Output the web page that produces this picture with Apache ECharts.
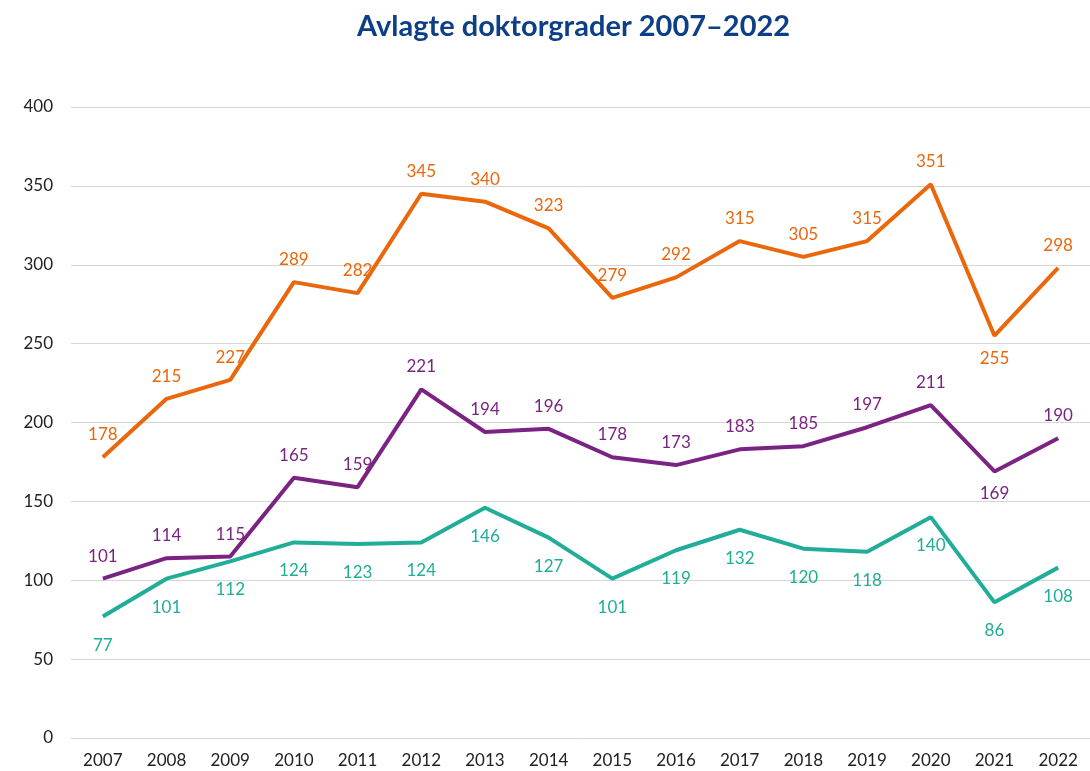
<!DOCTYPE html>
<html>
<head>
<meta charset="utf-8">
<script src="https://cdn.jsdelivr.net/npm/echarts@6/dist/echarts.min.js"></script>
<style>
    html, body { margin: 0; padding: 0; background: #fff; }
    #chart { width: 1090px; height: 771px; }
</style>
</head>
<body>
<div id="chart"></div>
<script>
    // år og tall
    const years = ['2007', '2008', '2009', '2010', '2011', '2012', '2013', '2014',
        '2015', '2016', '2017', '2018', '2019', '2020', '2021', '2022'];
    const totalt = [178, 215, 227, 289, 282, 345, 340, 323, 279, 292, 315, 305, 315, 351, 255, 298];
    const lilla = [101, 114, 115, 165, 159, 221, 194, 196, 178, 173, 183, 185, 197, 211, 169, 190];
    const gronn = [77, 101, 112, 124, 123, 124, 146, 127, 101, 119, 132, 120, 118, 140, 86, 108];
    // punkter der etiketten står under linja
    const underTotalt = ['2021'];
    const underLilla = ['2021'];

    const font = 'Lato, "Open Sans", sans-serif';

    function lag (values, below, pos) {
        return values.map((v, i) => {
            if (below.indexOf(years[i]) >= 0) {
                return {value: v, label: {position: pos}};
            }
            return v;
        });
    }

    function serie (name, values, color, position, dist) {
        return {
            name: name,
            type: 'line',
            data: values,
            symbol: 'circle',
            symbolSize: 0.1,
            showSymbol: true,
            lineStyle: {width: 4, color: color},
            itemStyle: {color: color},
            label: {
                show: true,
                position: position,
                distance: dist,
                color: color,
                fontSize: 17,
                fontFamily: font
            },
            emphasis: {disabled: true},
            z: 3
        };
    }

    let myChart = echarts.init(document.getElementById('chart'));
    let option = {
        animation: false,
        title: {
            text: 'Avlagte doktorgrader 2007–2022',
            left: 352,
            top: 7,
            textStyle: {
                color: '#0d3f88',
                fontSize: 29,
                fontWeight: 'bold',
                fontFamily: font
            }
        },
        grid: {
            left: 71,
            right: -8,
            top: 107,
            bottom: 33
        },
        xAxis: {
            type: 'category',
            data: years,
            axisLine: {show: false},
            axisTick: {show: false},
            axisLabel: {
                color: '#222',
                fontSize: 17,
                fontFamily: font,
                margin: 14
            }
        },
        yAxis: {
            type: 'value',
            min: 0,
            max: 400,
            interval: 50,
            axisLine: {show: false},
            axisTick: {show: false},
            splitLine: {
                lineStyle: {color: '#d6d6d6', width: 1}
            },
            axisLabel: {
                color: '#222',
                fontSize: 17,
                fontFamily: font,
                margin: 18
            }
        },
        series: [
            serie('Totalt', lag(totalt, underTotalt, 'bottom'), '#ea670c', 'top', 14),
            serie('Lilla', lag(lilla, underLilla, 'bottom'), '#7a2382', 'top', 14),
            serie('Grønn', gronn, '#21ad98', 'bottom', 20)
        ]
    };
    myChart.setOption(option);
</script>
</body>
</html>
